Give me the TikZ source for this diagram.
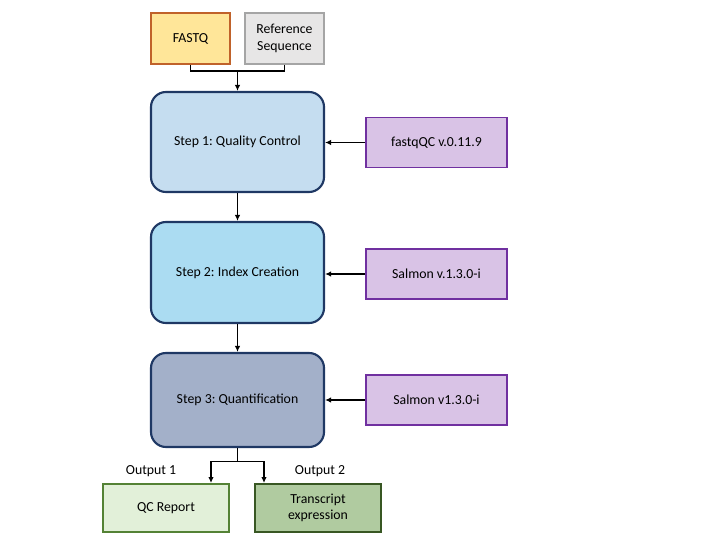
\documentclass[tikz,border=0pt]{standalone}
\usepackage{fontspec}
\setmainfont{Carlito}
\frenchspacing
\usetikzlibrary{arrows.meta}

\definecolor{fastqfill}{HTML}{FFE699}
\definecolor{fastqline}{HTML}{C0622A}
\definecolor{reffill}{HTML}{E7E6E6}
\definecolor{refline}{HTML}{A5A5A5}
\definecolor{stepline}{HTML}{1F3864}
\definecolor{stepone}{HTML}{C5DDF0}
\definecolor{steptwo}{HTML}{ABDCF2}
\definecolor{stepthree}{HTML}{A3B0C9}
\definecolor{toolfill}{HTML}{D9C3E6}
\definecolor{toolline}{HTML}{7030A0}
\definecolor{qcfill}{HTML}{E2F0D9}
\definecolor{qcline}{HTML}{548235}
\definecolor{txfill}{HTML}{B0CBA0}
\definecolor{txline}{HTML}{385723}

\tikzset{
	label font/.style={font=\fontsize{13.8}{16.5}\selectfont},
	inbox/.style={draw, line width=0.7mm, minimum width=79pt, minimum height=51pt, inner sep=0pt, align=center, label font},
	stepbox/.style={draw=stepline, line width=0.75mm, rounded corners=15pt, minimum width=173pt, inner sep=0pt, label font},
	toolbox/.style={draw=toolline, fill=toolfill, line width=0.7mm, minimum width=141pt, minimum height=50pt, inner sep=0pt, label font},
	outbox/.style={draw, line width=0.7mm, minimum width=126pt, minimum height=48pt, inner sep=0pt, align=center, label font},
	flow/.style={line width=0.7mm, -{Latex[length=6pt,width=5.5pt]}},
	joint/.style={line width=0.7mm}
}

\begin{document}
\begin{tikzpicture}[x=1pt, y=-1pt]
			%%%%% START %%%%%
			\useasboundingbox (0, 0) rectangle (720, 540);
			
			\node[inbox, draw=fastqline, fill=fastqfill] (fastq) at (190.5, 38.5) {FASTQ};
			\node[inbox, draw=refline, fill=reffill] (refseq) at (284.5, 38.5) {Reference\\Sequence};
			
			\node[stepbox, fill=stepone, minimum height=100pt] (qc) at (237.5, 142) {Step 1: Quality Control};
			\node[stepbox, fill=steptwo, minimum height=101pt] (index) at (237.5, 272.5) {Step 2: Index Creation};
			\node[stepbox, fill=stepthree, minimum height=94pt] (quant) at (237.5, 400) {Step 3: Quantification};
			
			\node[toolbox] (fastqc) at (436.5, 142.5) {fastqQC v.0.11.9};
			\node[toolbox] (salmonidx) at (436.5, 274) {Salmon v.1.3.0-i};
			\node[toolbox] (salmonquant) at (436.5, 400) {Salmon v1.3.0-i};
			
			\node[outbox, draw=qcline, fill=qcfill] (report) at (166, 508) {QC Report};
			\node[outbox, draw=txline, fill=txfill] (transcript) at (318, 508) {Transcript\\expression};
			
			\node[label font] (outone) at (151, 471) {Output 1};
			\node[label font] (outtwo) at (320, 471) {Output 2};
			
			% inputs into step 1
			\coordinate (merge) at (237.5, 71);
			\draw[joint] (fastq.south) |- (merge);
			\draw[joint] (refseq.south) |- (merge);
			\draw[flow] (merge) -- (qc.north);
			
			% steps
			\draw[flow] (qc.south) -- (index.north);
			\draw[flow] (index.south) -- (quant.north);
			
			% tools
			\draw[flow] (fastqc.west) -- (qc.east |- fastqc.west);
			\draw[flow] (salmonidx.west) -- (index.east |- salmonidx.west);
			\draw[flow] (salmonquant.west) -- (quant.east |- salmonquant.west);
			
			% outputs
			\coordinate (split) at (237.5, 461.5);
			\draw[joint] (quant.south) -- (split);
			\draw[flow] (split) -| ([xshift=-19pt]report.north east);
			\draw[flow] (split) -| ([xshift=10pt]transcript.north west);
			
			%%%%% END %%%%%
		\end{tikzpicture}
\end{document}
